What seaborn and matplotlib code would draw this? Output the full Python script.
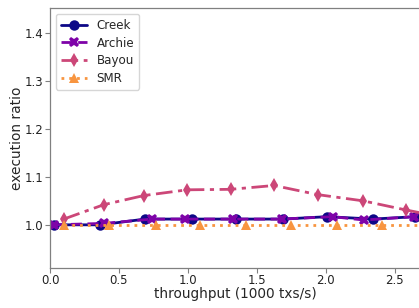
import matplotlib
matplotlib.use("Agg")
import matplotlib.pyplot as plt
import seaborn as sns
import pandas as pd

sns.set_style("white")
plt.rcParams['font.family'] = ['DejaVu Sans']

series_names = ["Creek", "Archie", "Bayou", "SMR"]
creek_x = [0.03, 0.365, 0.69, 1.03, 1.35, 1.69, 2.01, 2.34, 2.65]
creek_y = [1.0, 1.0, 1.012, 1.012, 1.012, 1.012, 1.017, 1.012, 1.017]
archie_x = [0.03, 0.39, 0.74, 0.98, 1.33, 1.68, 2.05, 2.275, 2.64]
archie_y = [1.0, 1.003, 1.012, 1.012, 1.012, 1.012, 1.017, 1.01, 1.017]
bayou_x = [0.10, 0.39, 0.68, 0.995, 1.31, 1.625, 1.94, 2.27, 2.58, 2.90]
bayou_y = [1.012, 1.042, 1.061, 1.073, 1.074, 1.082, 1.063, 1.05, 1.031, 1.013]
smr_x = [0.10, 0.43, 0.77, 1.09, 1.42, 1.75, 2.08, 2.41, 2.74]
smr_y = [1.0, 1.0, 1.0, 1.0, 1.0, 1.0, 1.0, 1.0, 1.0]

colors = ["#0d0887", "#7e03a8", "#cc4778", "#f89540"]
markers = ["o", "X", "d", "^"]
styles = ["-", (0, (4, 2)), (0, (6, 2, 1.5, 2)), (0, (1, 1.8))]
xs = [creek_x, archie_x, bayou_x, smr_x]
ys = [creek_y, archie_y, bayou_y, smr_y]

fig = plt.figure(figsize=(4.19, 3.08), dpi=100)
ax = fig.add_axes([50/419, 40/308, 371/419, 260/308])

for name, x, y, c, m, ls in zip(series_names, xs, ys, colors, markers, styles):
    df = pd.DataFrame({"x": x, "y": y})
    sns.lineplot(data=df, x="x", y="y", ax=ax, color=c, marker=m, linestyle=ls,
                 linewidth=2, markersize=7.5, markeredgewidth=0, label=name)

ax.set_xlim(0, 2.69)
ax.set_ylim(0.91, 1.452)
ax.set_xticks([0.0, 0.5, 1.0, 1.5, 2.0, 2.5])
ax.set_yticks([1.0, 1.1, 1.2, 1.3, 1.4])
ax.set_xlabel("throughput (1000 txs/s)", fontsize=9.8, labelpad=0)
ax.set_ylabel("execution ratio", fontsize=9.9, labelpad=1)
ax.tick_params(axis="both", labelsize=8.5, length=3.5, width=0.8, color="#808080",
               labelcolor="#222222", bottom=True, left=True, pad=1)
for s in ax.spines.values():
    s.set_color("#808080")
    s.set_linewidth(0.9)

leg = ax.legend(loc="upper left", fontsize=8.6, handlelength=2.2, borderaxespad=0.5,
                labelspacing=0.4, framealpha=0.8)

fig.savefig("out.png", dpi=100)
